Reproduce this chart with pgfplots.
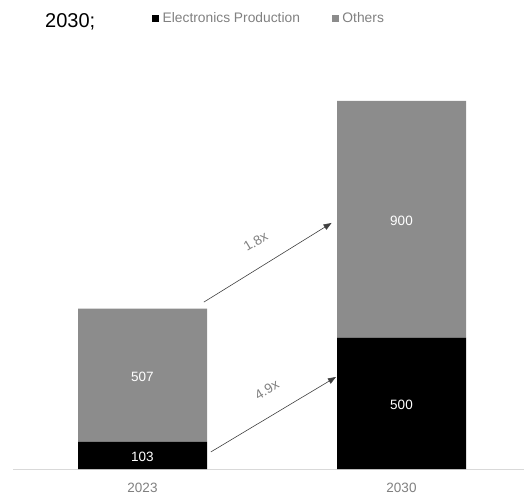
\documentclass[border=0pt]{standalone}
\usepackage{fontspec}
\setmainfont{Liberation Sans}
\usepackage{pgfplots}
\pgfplotsset{compat=1.18}
\usetikzlibrary{arrows.meta}
\definecolor{othergray}{HTML}{8C8C8C}
\definecolor{ticgray}{HTML}{808080}
\definecolor{axgray}{HTML}{D9D9D9}
\definecolor{arrgray}{HTML}{404040}
\begin{document}
\begin{tikzpicture}
\useasboundingbox (-13pt,-27pt) rectangle (511pt,469pt);
\begin{axis}[
  at={(0pt,0pt)}, anchor=south west,
  scale only axis, width=511pt, height=368pt,
  ybar stacked, bar width=129pt,
  xmin=-0.5, xmax=1.473, ymin=0, ymax=1400,
  axis y line=none, axis x line=bottom,
  x axis line style={draw=axgray, line width=1pt, -},
  xtick=data, xticklabels={2023,2030},
  major tick length=0pt,
  xticklabel style={font=\fontsize{13.5}{15}\selectfont, text=ticgray, yshift=-11pt},
  clip=false,
  legend columns=2,
  legend style={at={(rel axis cs:0.272,1.225)}, anchor=west, draw=none, fill=none,
    font=\fontsize{13.8}{15}\selectfont, text=ticgray,
    /tikz/every odd column/.append style={column sep=1.5pt},
    /tikz/every even column/.append style={column sep=30pt},
    inner sep=0pt},
  legend image code/.code={\draw[#1, draw=none] (0pt,-3.5pt) rectangle (7pt,3.5pt);},
]
\addplot+[fill=black, draw=none] coordinates {(0,103) (1,500)};
\addlegendentry{Electronics Production}
\addplot+[fill=othergray, draw=none] coordinates {(0,507) (1,900)};
\addlegendentry{Others}
\coordinate (a) at (axis cs:0,45);
\coordinate (b) at (axis cs:0,350);
\coordinate (c) at (axis cs:1,245);
\coordinate (d) at (axis cs:1,945);
\coordinate (s1) at (axis cs:0.237,635);
\coordinate (e1) at (axis cs:0.730,936);
\coordinate (s2) at (axis cs:0.264,65);
\coordinate (e2) at (axis cs:0.747,350);
\coordinate (t1) at (axis cs:0.437,866);
\coordinate (t2) at (axis cs:0.480,302);
\end{axis}
\node[text=white, font=\fontsize{13.5}{15}\selectfont] at (a) {103};
\node[text=white, font=\fontsize{13.5}{15}\selectfont] at (b) {507};
\node[text=white, font=\fontsize{13.5}{15}\selectfont] at (c) {500};
\node[text=white, font=\fontsize{13.5}{15}\selectfont] at (d) {900};
\draw[arrgray, line width=0.6pt, -{Triangle[length=8pt,width=6pt]}] (s1) -- (e1);
\draw[arrgray, line width=0.6pt, -{Triangle[length=8pt,width=6pt]}] (s2) -- (e2);
\node[rotate=31, text=ticgray, font=\fontsize{13.5}{15}\selectfont, inner sep=1pt] at (t1) {1.8x};
\node[rotate=31, text=ticgray, font=\fontsize{13.5}{15}\selectfont, inner sep=1pt] at (t2) {4.9x};
\node[anchor=base west, inner sep=0pt, font=\fontsize{20}{24}\selectfont] at (32pt,441pt) {2030;};
\end{tikzpicture}
\end{document}
